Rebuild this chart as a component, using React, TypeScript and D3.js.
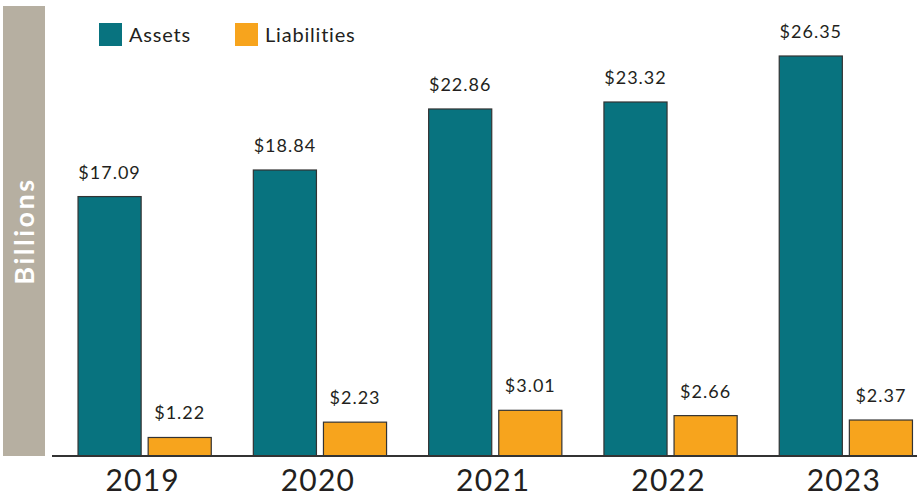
import React from "react";
import * as d3 from "d3";

const years = ["2019", "2020", "2021", "2022", "2023"];
const assets = [17.09, 18.84, 22.86, 23.32, 26.35];
const liabilities = [1.22, 2.23, 3.01, 2.66, 2.37];
const seriesNames = ["Assets", "Liabilities"];
const colors = ["#08737f", "#f7a41d"];

const W = 917;
const H = 499;
const baseY = 456;
const FONT = "'Lato', 'Noto Sans', sans-serif";

export default function App() {
  const x = d3.scaleBand<string>().domain(years).range([57, 933.5]).paddingInner(0.24).paddingOuter(0.12);
  const inner = d3.scaleBand<string>().domain(seriesNames).range([0, x.bandwidth()]).paddingInner(0.1);
  const y = d3.scaleLinear().domain([0, 26.35]).range([baseY, 56]);
  const data = [assets, liabilities];
  return (
    <svg width={W} height={H} style={{ position: "absolute", left: 0, top: 0, background: "#fff" }}>
      <rect x={3} y={6} width={42} height={450} fill="#b6afa1" />
      <text transform={`translate(34,231) rotate(-90)`} textAnchor="middle" fill="#fff" fontFamily={FONT} fontWeight={700} fontSize={27} letterSpacing={2.5}>Billions</text>
      {seriesNames.map((s, si) => {
        const lx = si === 0 ? 99 : 235;
        return (
          <g key={s}>
            <rect x={lx} y={23} width={23} height={23} fill={colors[si]} />
            <text x={lx + 30} y={42} fontFamily={FONT} fontSize={20} letterSpacing={0.8} fill="#231f20">{s}</text>
          </g>
        );
      })}
      {years.map((yr, i) => (
        <g key={yr}>
          {data.map((arr, si) => {
            const bx = (x(yr) as number) + (inner(seriesNames[si]) as number);
            const bw = inner.bandwidth();
            const v = arr[i];
            return (
              <g key={si}>
                <rect x={bx} y={y(v)} width={bw} height={baseY - y(v)} fill={colors[si]} stroke="#333" strokeWidth={1.2} />
                <text x={bx + bw / 2} y={y(v) - 18} textAnchor="middle" fontFamily={FONT} fontSize={18} letterSpacing={1} fill="#231f20">${v.toFixed(2)}</text>
              </g>
            );
          })}
          <text x={(x(yr) as number) + x.bandwidth() / 2 - 2} y={491} textAnchor="middle" fontFamily={FONT} fontWeight={400} fontSize={30} fill="#231f20" letterSpacing={1.2}>{yr}</text>
        </g>
      ))}
      <line x1={52} x2={917} y1={baseY} y2={baseY} stroke="#333" strokeWidth={2} />
    </svg>
  );
}
